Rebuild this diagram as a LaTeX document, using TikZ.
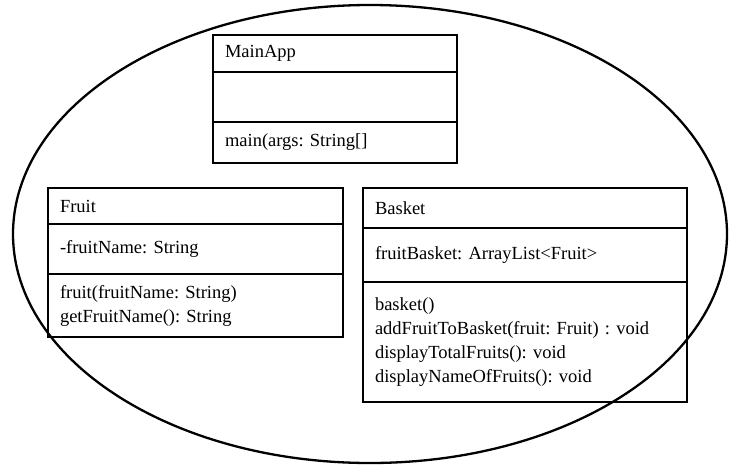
\documentclass[tikz,border=0pt]{standalone}
\usepackage{fontspec}
\setmainfont{Liberation Serif}
\usetikzlibrary{positioning}
\frenchspacing

\tikzset{
  classpart/.style={draw, line width=1.2pt, outer sep=0pt, inner xsep=12pt, inner ysep=4pt,
    align=left, font=\fontsize{18.5}{24}\selectfont},
  mainpart/.style={classpart, text width=220pt},
  fruitpart/.style={classpart, text width=271pt},
  basketpart/.style={classpart, text width=300pt},
}

\begin{document}
\begin{tikzpicture}[x=1pt,y=-1pt]
  \useasboundingbox (0,0) rectangle (735,466);
  \draw[line width=2.3pt] (370,234) ellipse [x radius=357, y radius=229];

  % MainApp
  \node[mainpart, minimum height=37pt, anchor=north west] (mainName) at (213,35) {MainApp};
  \node[mainpart, minimum height=50pt, below=0pt of mainName] (mainAttr) {};
  \node[mainpart, minimum height=41pt, below=0pt of mainAttr] (mainOps) {main(args: String[]};

  % Fruit
  \node[fruitpart, minimum height=36pt, anchor=north west] (fruitName) at (48,188) {Fruit};
  \node[fruitpart, minimum height=50pt, below=0pt of fruitName] (fruitAttr) {-fruitName: String};
  \node[fruitpart, minimum height=63pt, below=0pt of fruitAttr] (fruitOps)
    {fruit(fruitName: String)\\getFruitName(): String};

  % Basket
  \node[basketpart, minimum height=40pt, anchor=north west] (basketName) at (363,188) {Basket};
  \node[basketpart, minimum height=54pt, below=0pt of basketName] (basketAttr) {fruitBasket: ArrayList<Fruit>};
  \node[basketpart, minimum height=120pt, below=0pt of basketAttr] (basketOps)
    {basket()\\addFruitToBasket(fruit: Fruit) : void\\displayTotalFruits(): void\\displayNameOfFruits(): void};
\end{tikzpicture}
\end{document}
